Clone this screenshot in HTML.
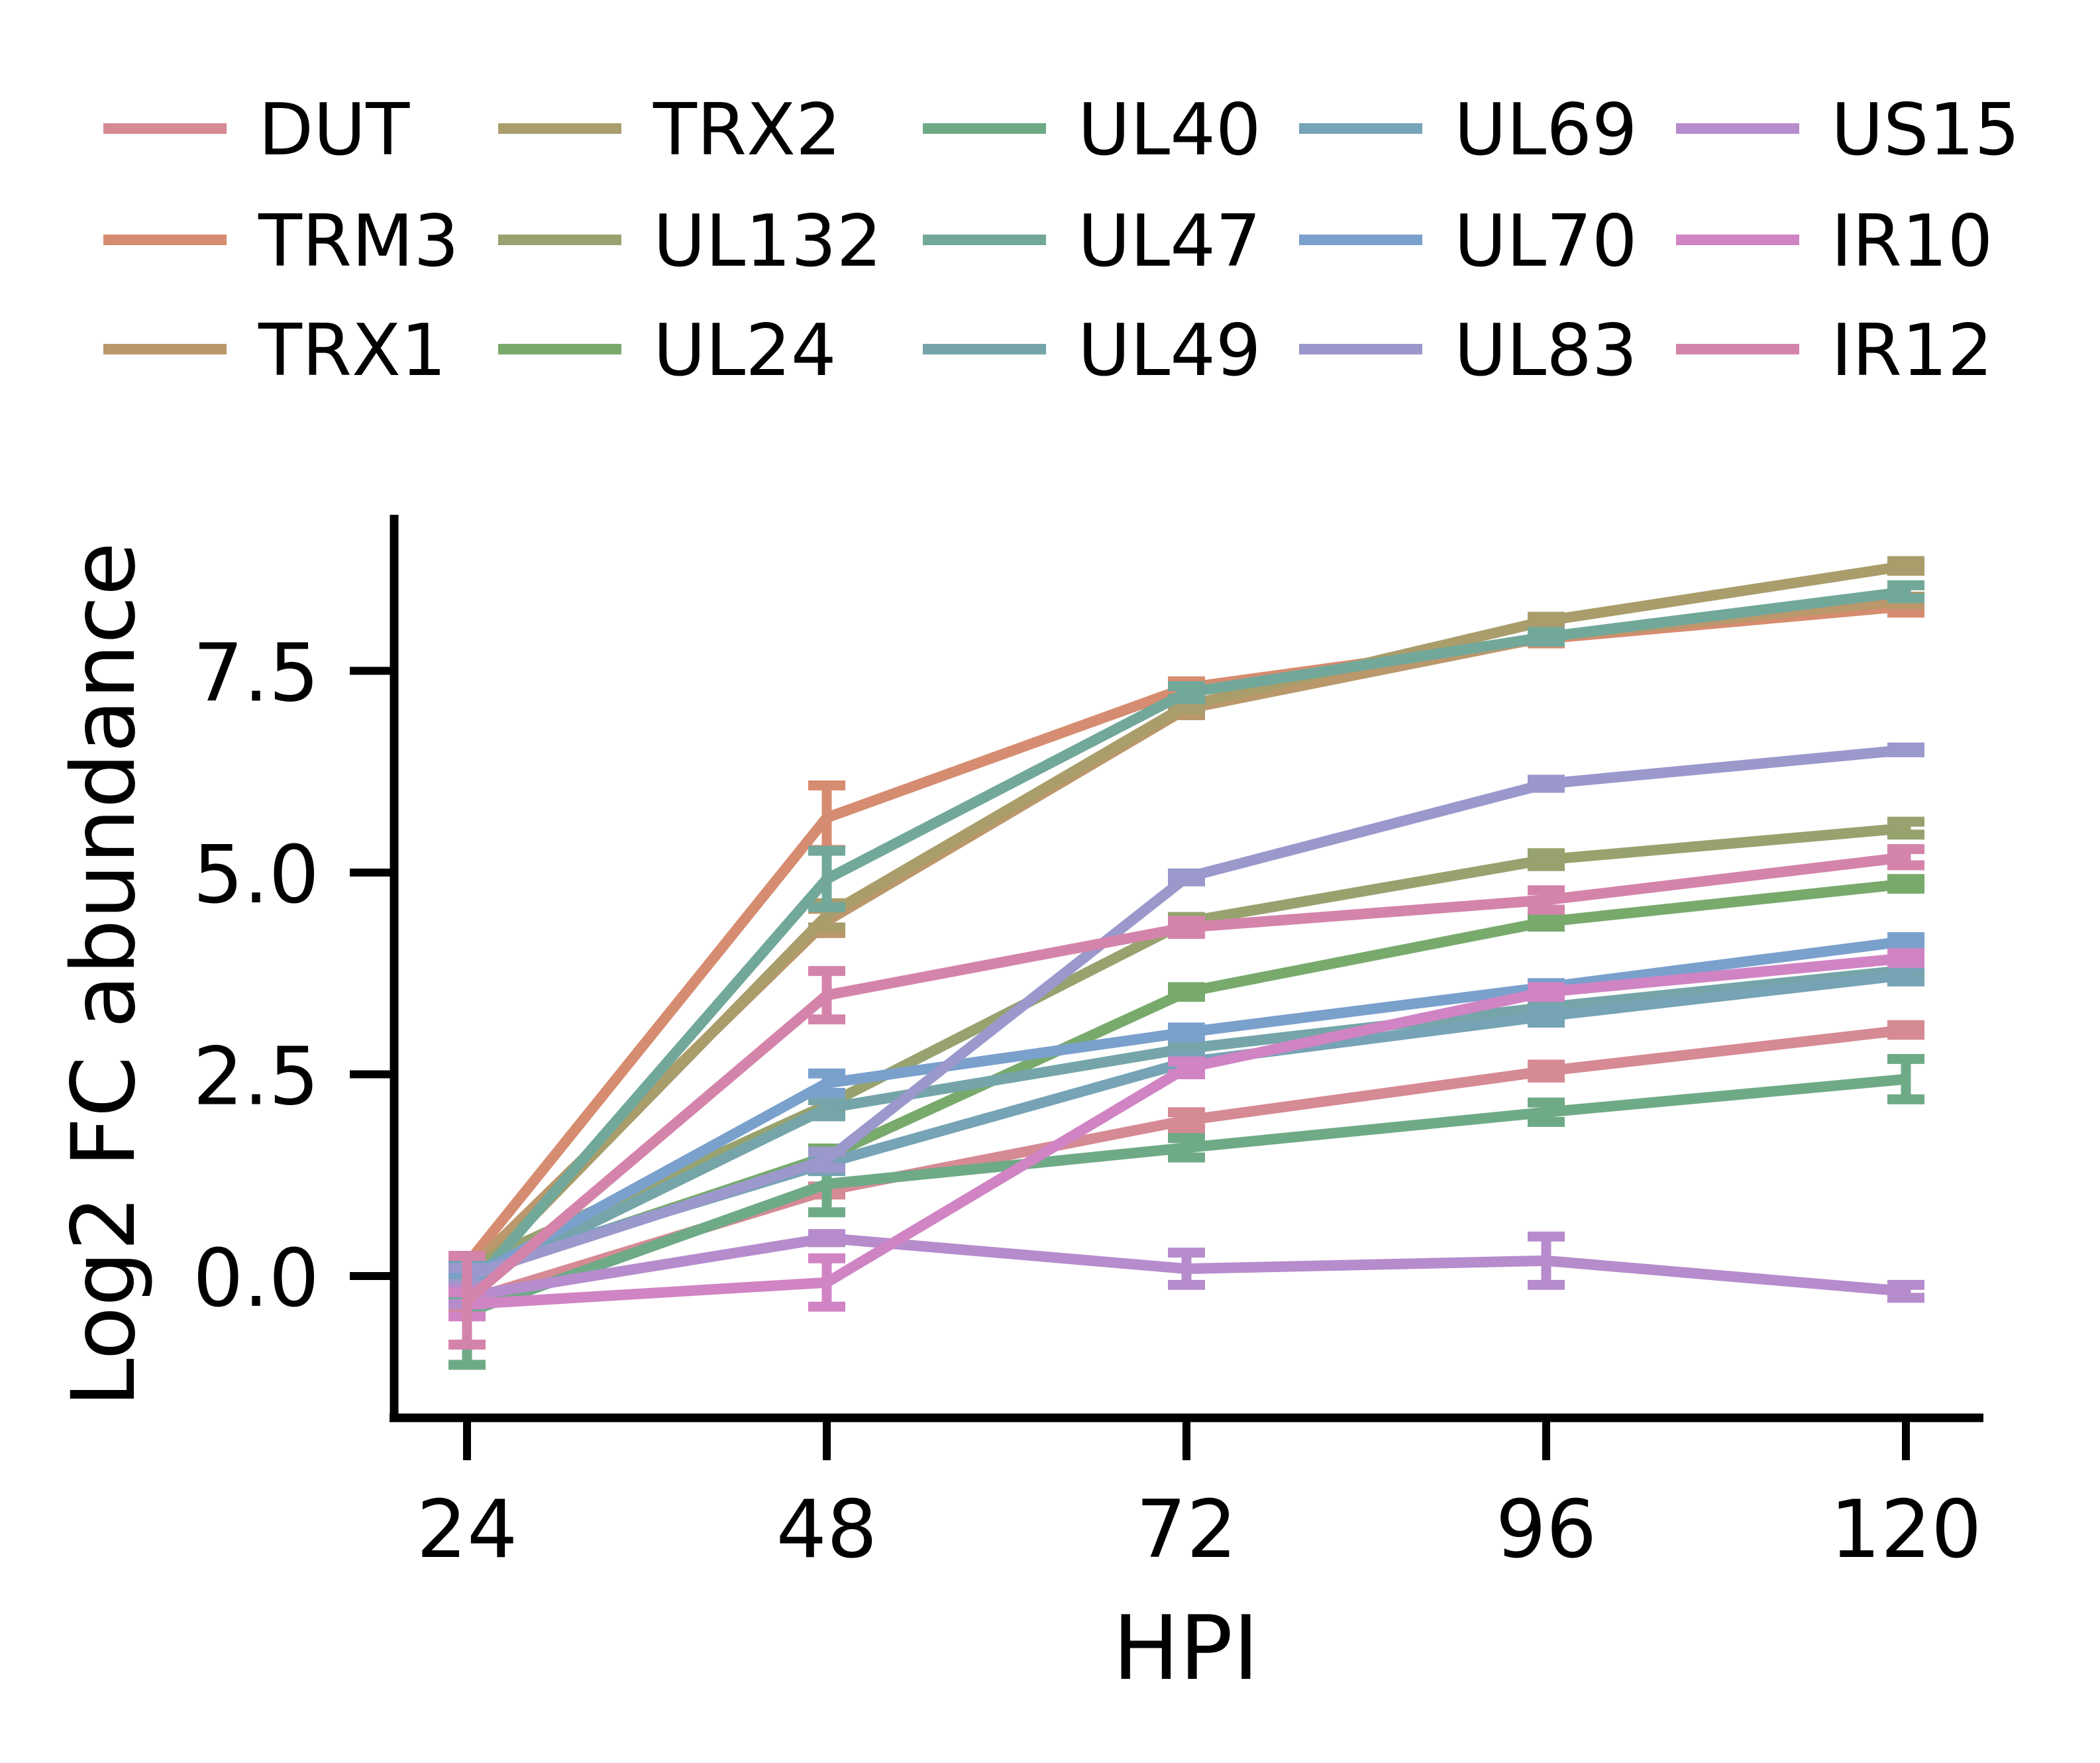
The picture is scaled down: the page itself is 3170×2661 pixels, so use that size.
<!DOCTYPE html>
<html><head><meta charset="utf-8"><style>
html,body{margin:0;padding:0;background:#fff}
svg{display:block}
text{font-family:"DejaVu Sans","Liberation Sans",sans-serif;fill:#000}
</style></head><body>
<svg id="chart" width="3170" height="2661" viewBox="0 0 3170 2661" xmlns="http://www.w3.org/2000/svg">
<g id="legend"></g>
<g id="series"></g>
<g id="axes"></g>
</svg>
<script>
const categories = [24, 48, 72, 96, 120];
const seriesNames = ["DUT","TRM3","TRX1","TRX2","UL132","UL24","UL40","UL47","UL49","UL69","UL70","UL83","US15","IR10","IR12"];
const seriesColors = ["#d58a94","#d68c70","#bb976c","#a99d6c","#97a26e","#78aa6c","#6faa87","#72a89a","#75a5a8","#76a3b5","#7aa0cc","#9b98cc","#b68ccc","#d084c4","#d484aa"];
const DUT   = [-0.30, 1.06, 1.93, 2.54, 3.05];
const TRM3  = [ 0.15, 5.68, 7.29, 7.90, 8.30];
const TRX1  = [ 0.05, 4.40, 7.03, 7.92, 8.37];
const TRX2  = [-0.10, 4.47, 7.07, 8.12, 8.80];
const UL132 = [ 0.10, 2.12, 4.39, 5.16, 5.55];
const UL24  = [ 0.00, 1.48, 3.52, 4.39, 4.86];
const UL40  = [-0.45, 1.14, 1.59, 2.03, 2.44];
const UL47  = [-0.20, 4.92, 7.23, 7.92, 8.48];
const UL49  = [-0.10, 2.08, 2.82, 3.33, 3.79];
const UL69  = [ 0.05, 1.40, 2.65, 3.22, 3.73];
const UL70  = [-0.05, 2.39, 3.02, 3.58, 4.15];
const UL83  = [ 0.00, 1.44, 4.94, 6.10, 6.52];
const US15  = [-0.25, 0.47, 0.09, 0.19, -0.19];
const IR10  = [-0.35, -0.08, 2.58, 3.52, 3.94];
const IR12  = [-0.30, 3.48, 4.32, 4.66, 5.19];
const errDUT  = [0.10,0.05,0.10,0.08,0.06];
const errTRM3 = [0.08,0.40,0.08,0.06,0.08];
const errTRX1 = [0.10,0.15,0.08,0.05,0.05];
const errTRX2 = [0.10,0.15,0.05,0.05,0.06];
const errUL132= [0.10,0.10,0.06,0.08,0.08];
const errUL24 = [0.10,0.10,0.06,0.06,0.06];
const errUL40 = [0.65,0.35,0.12,0.12,0.25];
const errUL47 = [0.10,0.35,0.08,0.06,0.08];
const errUL49 = [0.10,0.10,0.06,0.08,0.10];
const errUL69 = [0.10,0.10,0.08,0.08,0.08];
const errUL70 = [0.10,0.12,0.06,0.05,0.05];
const errUL83 = [0.10,0.10,0.05,0.05,0.03];
const errUS15 = [0.10,0.05,0.20,0.30,0.08];
const errIR10 = [0.15,0.30,0.08,0.06,0.06];
const errIR12 = [0.55,0.30,0.08,0.12,0.10];
const seriesValues = [DUT,TRM3,TRX1,TRX2,UL132,UL24,UL40,UL47,UL49,UL69,UL70,UL83,US15,IR10,IR12];
const seriesErrors = [errDUT,errTRM3,errTRX1,errTRX2,errUL132,errUL24,errUL40,errUL47,errUL49,errUL69,errUL70,errUL83,errUS15,errIR10,errIR12];
const yTicks = [0, 2.5, 5, 7.5];
const yTickLabels = ["0.0","2.5","5.0","7.5"];

const NS="http://www.w3.org/2000/svg";
function mk(tag, attrs, parent){const e=document.createElementNS(NS,tag);for(const k in attrs)e.setAttribute(k,attrs[k]);parent.appendChild(e);return e;}
function xScale(v){return 705 + (v-24)/24*543;}
function yScale(v){return 1926 - v*121.8;}

const sg=document.getElementById('series');
seriesValues.forEach((vals,i)=>{
  const g=mk('g',{},sg);
  
  
  const c=seriesColors[i];
  const pts=vals.map((v,j)=>xScale(categories[j])+','+yScale(v)).join(' ');
  const pl=mk('polyline',{points:pts,fill:'none',stroke:c,'stroke-width':16,'stroke-linejoin':'round'},g);
  
  
  vals.forEach((v,j)=>{
    const x=xScale(categories[j]), e=seriesErrors[i][j];
    const y1=yScale(v+e), y2=yScale(v-e);
    const eb=mk('path',{d:`M${x},${y1}V${y2}M${x-28},${y1}H${x+28}M${x-28},${y2}H${x+28}`,stroke:c,'stroke-width':15,fill:'none'},g);
    
    
  });
});

const ax=document.getElementById('axes');
mk('line',{x1:595,y1:777,x2:595,y2:2146,stroke:'#000','stroke-width':13},ax);
mk('line',{x1:588,y1:2140,x2:2994,y2:2140,stroke:'#000','stroke-width':13},ax);
categories.forEach(c=>{
  const x=xScale(c);
  mk('line',{x1:x,y1:2140,x2:x,y2:2204,stroke:'#000','stroke-width':12},ax);
  const t=mk('text',{x:x,y:2350,'font-size':120,'text-anchor':'middle'},ax);
  t.textContent=c;
  
  
});
yTicks.forEach((v,k)=>{
  const y=yScale(v);
  mk('line',{x1:595,y1:y,x2:528,y2:y,stroke:'#000','stroke-width':12},ax);
  const t=mk('text',{x:482,y:y+45,'font-size':120,'text-anchor':'end'},ax);
  t.textContent=yTickLabels[k];
  
  
});
const xt=mk('text',{x:1790,y:2534,'font-size':134,'text-anchor':'middle'},ax);
xt.textContent='HPI';


const yt=mk('text',{x:0,y:0,'font-size':132,'text-anchor':'middle',transform:'translate(202,1471) rotate(-90)'},ax);
yt.textContent='Log2 FC abundance';



const lg=document.getElementById('legend');
const colX=[156,752,1393,1961,2530];
const rowY=[194,362,527];
seriesNames.forEach((n,i)=>{
  const col=Math.floor(i/3), row=i%3;
  const g=mk('g',{},lg);
  
  
  mk('line',{x1:colX[col],y1:rowY[row],x2:colX[col]+186,y2:rowY[row],stroke:seriesColors[i],'stroke-width':16},g);
  const t=mk('text',{x:colX[col]+234,y:rowY[row]+39,'font-size':108},g);
  t.textContent=n;
});
</script>
</body></html>
